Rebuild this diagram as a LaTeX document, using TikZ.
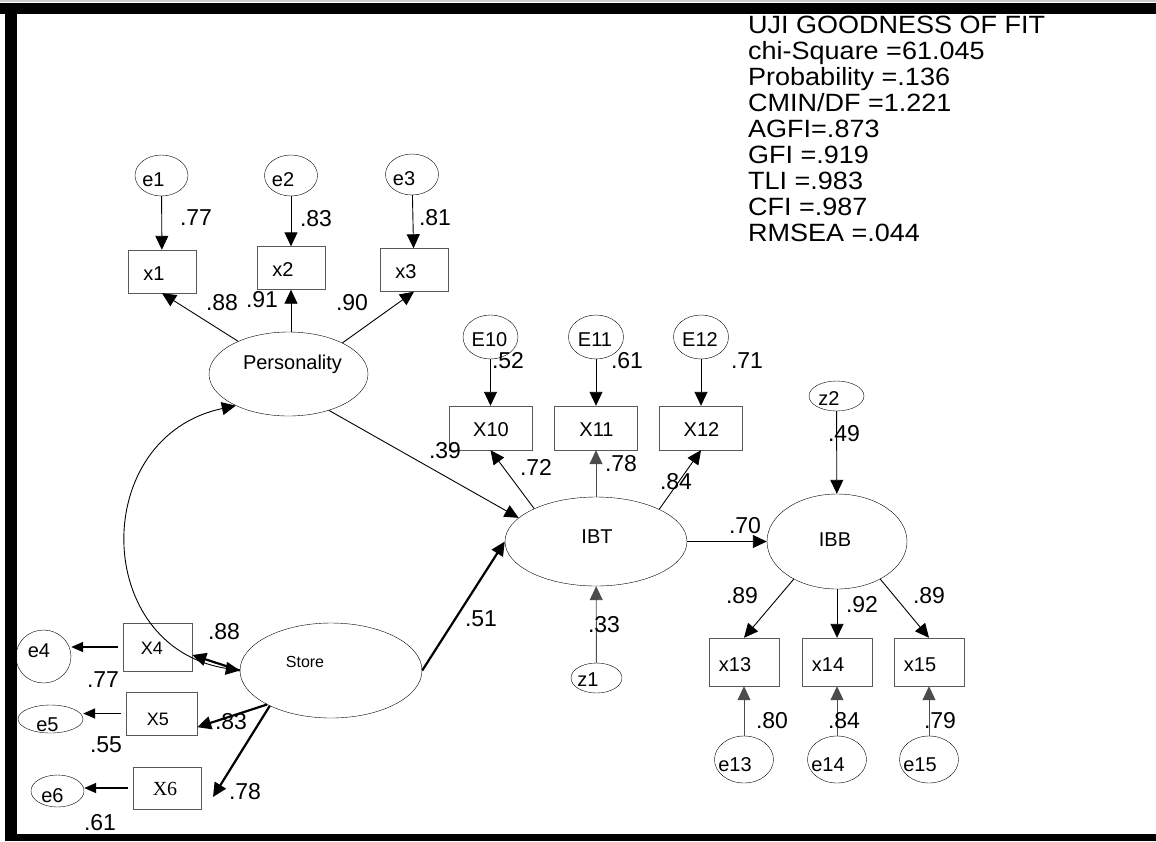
\documentclass[tikz,border=0pt]{standalone}
\usepackage{fontspec}
\setmainfont{Liberation Sans}
\newfontfamily\timesfont{Liberation Serif}
\newfontfamily\fitfont[FakeStretch=1.08]{Liberation Sans}
\usetikzlibrary{arrows.meta,shapes.geometric}

\tikzset{
    >={Triangle[length=14pt,width=13pt]},
    latent/.style={draw, ellipse, inner sep=0pt},
    err/.style={draw, ellipse, inner sep=0pt},
    obs/.style={draw=black!65, rectangle, inner sep=0pt, minimum width=68, minimum height=43},
    arr/.style={->, line width=0.9pt},
    bold arr/.style={->, line width=2.2pt},
    err arr/.style={-{Triangle[length=12pt,width=10pt]}, line width=1.8pt, shorten <=5pt},
    coef/.style={inner sep=0pt, font=\fontsize{23}{26}\selectfont},
    every label/.style={inner sep=0pt, font=\fontsize{20}{24}\selectfont},
}

\begin{document}
\begin{tikzpicture}[x=1pt,y=-1pt]
    \useasboundingbox (0,0) rectangle (1156,841);
    % Personality
        \node[latent, minimum width=159, minimum height=84, label={[shift={(4,-10)}]center:Personality}] (pers) at (288.5,374) {};
        \foreach \i/\ex/\ey/\bx/\by in {1/161.5/175.5/162/271.5, 2/291/175.5/291/268, 3/412/174.5/414/270}{
            \node[err, minimum width=53, minimum height=41, label={[shift={(-8,4)}]center:e\i}] (e\i) at (\ex,\ey) {};
            \node[obs, label={[shift={(-8,2)}]center:x\i}] (x\i) at (\bx,\by) {};
            \draw[arr] (e\i) -- (x\i);
        }
        \draw[arr] (pers.147) -- (x1.south);
        \draw[arr] (x2.south |- pers.north) -- (x2.south);
        \draw[arr] (pers.30) -- (x3.south);
    % Store
        \node[latent, minimum width=182, minimum height=95, label={[shift={(-26,-8.5)}, font=\fontsize{16}{19}\selectfont]center:Store}] (store) at (331,670.5) {};
        \node[obs, minimum width=69, minimum height=48, label={[shift={(-5.5,1.5)}, font=\fontsize{18}{22}\selectfont]center:X4}] (x4) at (157.5,647) {};
        \node[obs, minimum width=71, minimum height=43, label={[shift={(-3.5,6)}, font=\fontsize{18}{22}\selectfont]center:X5}] (x5) at (161.5,713.5) {};
        \node[obs, minimum width=68, minimum height=42, label={[shift={(-2,0.5)}, font=\timesfont\fontsize{20}{24}\selectfont]center:X6}] (x6) at (167,788) {};
        \node[err, minimum width=55, minimum height=53, label={[shift={(-4.5,-5.5)}]center:e4}] (e4) at (43.5,656.5) {};
        \node[err, minimum width=65, minimum height=28, label={[shift={(-3,6)}]center:e5}] (e5) at (50.5,719) {};
        \node[err, minimum width=53, minimum height=32, label={[shift={(-5,5)}]center:e6}] (e6) at (57.5,791) {};
        \coordinate (x6tip) at (213,797);
        \draw[bold arr] (store.west) -- ([yshift=-8pt]x4.east);
        \draw[bold arr] (store.208) -- ([yshift=8pt]x5.south east);
        \draw[bold arr] (store.210) -- (x6tip);
        \draw[err arr] (x4.west) -- (x4.west -| e4.east);
        \draw[err arr] (x5.west) -- (x5.west -| e5.east);
        \draw[err arr] (x6.west) -- (x6.west -| e6.east);
        % Covariance
        \draw[arr, <->] (pers.211) .. controls ([shift={(192:150pt)}]pers.211) and ([shift={(171:150pt)}]store.west) .. (store.west);
    % IBT
        \node[latent, minimum width=182, minimum height=89, label={[shift={(1,-4.5)}]center:IBT}] (ibt) at (596,541.5) {};
        \foreach \i/\x in {10/490.5, 11/596, 12/701}{
            \node[err, minimum width=55, minimum height=44, label={[shift={(-1,3)}]center:E\i}] (E\i) at (\x,337) {};
            \node[obs, minimum width=83, minimum height=44, label={[shift={(0.5,2)}]center:X\i}] (X\i) at (\x,428) {};
            \draw[arr] (E\i) -- (X\i);
        }
        \draw[arr] (ibt.152) -- (X10.south);
        \draw[arr, draw=black!70] (ibt.north) -- (X11.south);
        \draw[arr] (ibt.27) -- (X12.south);
        \draw[arr] (pers.-42) -- (ibt.163);
        \draw[bold arr] (store.east) -- (ibt.west);
        \node[err, minimum width=51, minimum height=30, label={[shift={(-8.5,2)}]center:z1}] (z1) at (596.5,678) {};
        \draw[arr, draw=black!70] (z1) -- (ibt);
    % IBB
        \node[latent, minimum width=140, minimum height=95, label={[shift={(-2,-2)}]center:IBB}] (ibb) at (837,541.5) {};
        \node[err, minimum width=55, minimum height=30, label={[shift={(-7.5,3)}]center:z2}] (z2) at (836.5,396) {};
        \draw[arr] (z2) -- (ibb);
        \draw[arr] (ibt.east) -- (ibb.west);
        \foreach \i/\x in {13/744, 14/837, 15/929}{
            \node[obs, minimum width=70, minimum height=48, label={[shift={(-9,3)}]center:x\i}] (x\i) at (\x,662) {};
            \node[err, minimum width=59, minimum height=47, label={[shift={(-9,5.5)}]center:e\i}] (e\i) at (\x,759.5) {};
            \draw[arr, draw=black!70] (e\i) -- (x\i);
        }
        \draw[arr] (ibb.221) -- (x13.north);
        \draw[arr] (ibb.south) -- (x14.north);
        \draw[arr] (ibb.-41) -- (x15.north);
    % Estimates
        \foreach \nm/\px/\py/\val in {ce1/196/218/.77, ce2/316/219/.83, ce3/435/218/.81,
            cx1/222/303/.88, cx2/262/300/.91, cx3/352/303/.90,
            cx4/224/632/.88, ce4/103/680/.77, cx5/231/722/.83, ce5/106/745/.55, cx6/245/792/.78, ce6/100/823/.61,
            cpi/445/451/.39, csi/481/619/.51, cz1/604/625/.33,
            cE10/508/361/.52, cE11/627/361/.61, cE12/747/361/.71,
            cX10/536/467/.72, cX11/621/464/.78, cX12/676/482/.84,
            cii/745/526/.70, cz2/844/434/.49,
            cx13/742/596/.89, cx14/862/605/.92, cx15/929/596/.89,
            ce13/772/721/.80, ce14/844/721/.84, ce15/940/721/.79}{
            \node[coef] (\nm) at (\px,\py) {\val};
        }
    % Fit
        \node[anchor=north west, align=left, inner sep=0pt, font=\fitfont\fontsize{25}{26.1}\selectfont] (fit) at (748,15.5)
            {UJI GOODNESS OF FIT\\chi-Square =61.045\\Probability =.136\\CMIN/DF =1.221\\AGFI=.873\\GFI =.919\\TLI =.983\\CFI =.987\\RMSEA =.044};
    % Frame
        \fill[black!20] (0,0) rectangle (1156,2);
        \fill (0,3) rectangle (1156,14);
        \fill (5,3) rectangle (17,841);
        \fill (5,834) rectangle (1156,841);
\end{tikzpicture}
\end{document}
